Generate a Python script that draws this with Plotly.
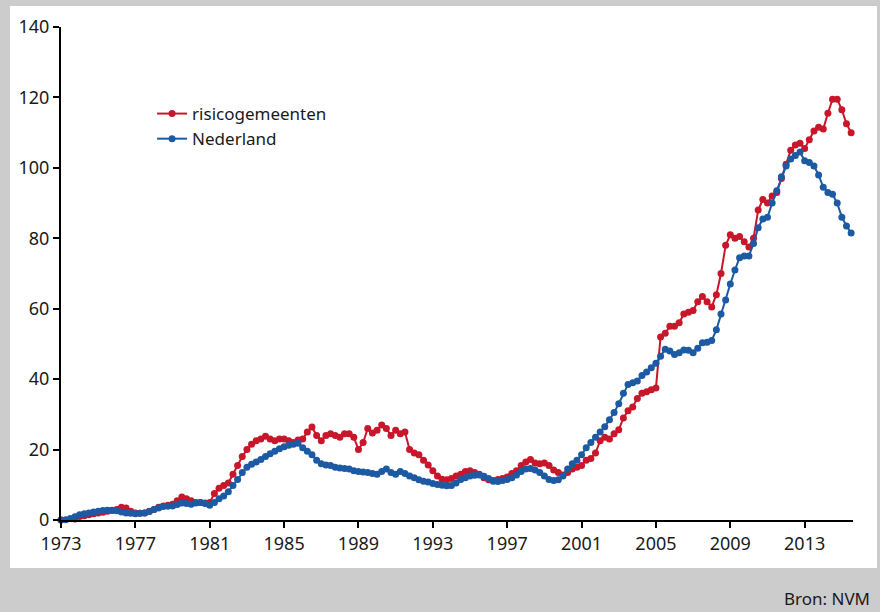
import plotly.graph_objects as go

# quarterly readings, 1973 Q1 .. 2015 Q3
start_year = 1973
nederland = [
    0, 0.1, 0.4, 0.9,
    1.5, 1.8, 2.0, 2.3,
    2.5, 2.7, 2.8, 2.7,
    2.6, 2.3, 2.0, 1.9,
    1.8, 1.9, 2.0, 2.4,
    3.0, 3.4, 3.8, 3.9,
    4.0, 4.4, 4.8, 4.7,
    4.5, 4.8, 5.0, 4.7,
    4.2, 5.0, 6.0, 6.8,
    8.0, 9.8, 11.5, 13.5,
    15.0, 15.8, 16.5, 17.2,
    18.0, 18.8, 19.5, 20.2,
    20.8, 21.2, 21.5, 21.8,
    20.5, 19.5, 18.5, 17.0,
    16.0, 15.6, 15.5, 15.0,
    14.8, 14.6, 14.5, 14.0,
    13.8, 13.6, 13.5, 13.2,
    13.0, 13.8, 14.5, 13.5,
    13.0, 13.8, 13.2, 12.5,
    12.0, 11.4, 11.0, 10.8,
    10.4, 10.1, 9.9, 9.7,
    9.8, 10.5, 11.5, 12.0,
    12.5, 12.7, 12.8, 12.4,
    11.8, 11.0, 10.9, 11.2,
    11.5, 12.0, 12.8, 13.8,
    14.5, 14.6, 14.2, 13.5,
    12.5, 11.5, 11.2, 11.4,
    12.5, 14.5, 16.0, 17.0,
    18.5, 20.5, 22.0, 23.5,
    25.0, 26.5, 28.5, 30.5,
    33.0, 36.0, 38.5, 39.0,
    39.5, 41.0, 42.0, 43.2,
    44.5, 46.5, 48.5, 48.0,
    47.0, 47.5, 48.3, 48.2,
    47.5, 48.8, 50.3, 50.5,
    51.0, 54.0, 58.5, 62.5,
    67.0, 71.0, 74.5, 75.0,
    75.0, 78.5, 83.0, 85.5,
    86.0, 90.0, 93.5, 97.5,
    100.5, 102.5, 103.5, 104.5,
    102.0, 101.5, 100.5, 98.0,
    94.5, 93.0, 92.5, 90.0,
    86.0, 83.5, 81.5,
]
risicogemeenten = [
    0, -0.3, -0.2, 0.3,
    1.0, 1.2, 1.5, 1.8,
    2.0, 2.2, 2.5, 2.8,
    3.0, 3.6, 3.4, 2.5,
    2.0, 1.9, 2.0, 2.5,
    3.0, 3.6, 4.0, 4.2,
    4.5, 5.5, 6.5, 6.0,
    5.5, 5.0, 5.0, 4.8,
    5.0, 7.5, 9.0, 9.8,
    10.5, 13.0, 15.5, 18.0,
    20.0, 21.5, 22.5, 23.0,
    23.8, 23.0, 22.5, 23.0,
    23.0, 22.5, 22.0, 22.7,
    23.0, 25.0, 26.4, 24.0,
    22.5, 24.0, 24.5, 24.0,
    23.5, 24.5, 24.5, 23.5,
    20.0, 22.0, 26.0, 24.7,
    25.5, 27.0, 26.0, 24.0,
    25.5, 24.5, 25.0, 20.0,
    19.0, 18.5, 17.0, 15.6,
    14.0, 12.5, 11.6, 11.4,
    11.8, 12.5, 13.0, 13.8,
    14.0, 13.5, 13.0, 12.0,
    11.4, 11.2, 11.5, 11.8,
    12.2, 13.2, 14.0, 15.5,
    16.5, 17.2, 16.2, 16.0,
    16.2, 15.5, 14.2, 13.5,
    12.8, 13.5, 14.5, 15.0,
    15.5, 17.0, 17.5, 19.0,
    22.5, 23.5, 23.0, 24.5,
    25.6, 29.0, 31.0, 32.1,
    34.5, 36.0, 36.4, 37.0,
    37.5, 52.0, 53.0, 55.0,
    55.0, 56.0, 58.5, 59.0,
    59.5, 62.0, 63.5, 62.0,
    60.5, 64.0, 70.0, 78.0,
    81.0, 80.0, 80.5, 79.0,
    77.5, 80.0, 88.0, 91.0,
    90.0, 92.0, 93.0, 97.0,
    101.0, 105.0, 106.5, 107.0,
    105.5, 108.0, 110.5, 111.5,
    111.0, 115.5, 119.5, 119.5,
    116.5, 112.5, 110.0,
]
years = [start_year + i / 4 for i in range(len(nederland))]
tick_years = list(range(1973, 2014, 4))

RED = '#c8162a'
BLUE = '#1c5aa3'
FONT = 'Noto Sans, Open Sans, sans-serif'

fig = go.Figure()
fig.add_trace(go.Scatter(
    x=years, y=risicogemeenten, name='risicogemeenten',
    mode='lines+markers', cliponaxis=False,
    line=dict(color=RED, width=2),
    marker=dict(color=RED, size=7),
))
fig.add_trace(go.Scatter(
    x=years, y=nederland, name='Nederland',
    mode='lines+markers', cliponaxis=False,
    line=dict(color=BLUE, width=2),
    marker=dict(color=BLUE, size=7),
))

# white panel on the grey frame
fig.add_shape(type='rect', xref='paper', yref='paper',
              x0=-0.0644, x1=1.0303, y0=-0.0974, y1=1.0426,
              fillcolor='white', line=dict(width=0), layer='below')

fig.add_annotation(text='Bron: NVM', xref='paper', yref='paper',
                   x=1.024, y=-0.16, xanchor='right', yanchor='middle',
                   showarrow=False, font=dict(size=17, color='#1a1a1a', family=FONT))

fig.update_layout(
    width=880, height=612,
    paper_bgcolor='#cccccc', plot_bgcolor='white',
    margin=dict(l=61, r=27, t=27, b=92),
    font=dict(family=FONT, size=18, color='#1a1a1a'),
    showlegend=True,
    legend=dict(x=0.115, y=0.86, xanchor='left', yanchor='top',
                bgcolor='rgba(0,0,0,0)', font=dict(size=17),
                tracegroupgap=0, itemwidth=30),
)
fig.update_xaxes(
    range=[1973, 2015.6], tickvals=tick_years, ticktext=[str(y) for y in tick_years],
    showgrid=False, zeroline=False, showline=True, linecolor='black', linewidth=2,
    ticks='outside', ticklen=6, tickwidth=2, tickcolor='black',
)
fig.update_yaxes(
    range=[0, 140], dtick=20,
    showgrid=False, zeroline=False, showline=True, linecolor='black', linewidth=2,
    ticks='outside', ticklen=6, tickwidth=2, tickcolor='black',
)

fig.write_html("out.html", config={'displayModeBar': False},
               post_script="document.body.style.margin='0';")
